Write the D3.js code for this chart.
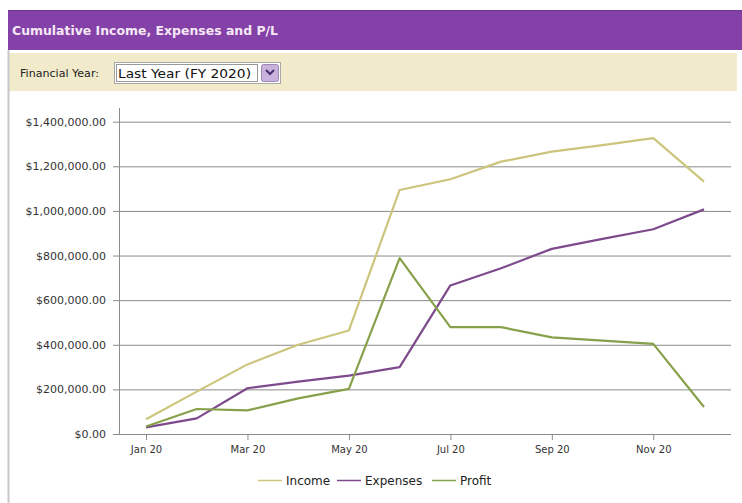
<!DOCTYPE html>
<html><head><meta charset="utf-8">
<script src="https://cdn.jsdelivr.net/npm/d3@7"></script>
<style>
html,body{margin:0;padding:0;background:#fff;}
svg{display:block;}
</style></head>
<body><svg id="c" width="742" height="503"></svg>
<script>
const months = ["Jan 20","Feb 20","Mar 20","Apr 20","May 20","Jun 20","Jul 20","Aug 20","Sep 20","Oct 20","Nov 20","Dec 20"];
const income   = [66000,190000,312000,400000,464000,1094000,1142000,1221000,1266000,1295000,1326000,1131000];
const expenses = [30000,70000,205000,235000,262000,300000,666000,743000,830000,875000,918000,1007000];
const profit   = [34000,112000,106000,160000,202000,788000,479000,479000,433000,419000,404000,121000];
const yTicks = [0,200000,400000,600000,800000,1000000,1200000,1400000];
const xTickLabels = ["Jan 20","Mar 20","May 20","Jul 20","Sep 20","Nov 20"];
const seriesNames = ["Income","Expenses","Profit"];
const colors = ["#ccc57c","#7d4a8c","#87a04a"];

const svg = d3.select("#c");
// header
svg.append("rect").attr("x",8).attr("y",10).attr("width",734).attr("height",40).attr("fill","#8441a8");
svg.append("line").attr("x1",8).attr("x2",742).attr("y1",10.5).attr("y2",10.5).attr("stroke","#6d3590");
svg.append("text").attr("x",12).attr("y",35).attr("fill","#f6e8f6")
  .attr("font-family","DejaVu Sans, sans-serif").attr("font-weight","bold").attr("font-size",12)
  .attr("textLength",266).attr("lengthAdjust","spacingAndGlyphs")
  .text("Cumulative Income, Expenses and P/L");
// filter bar
svg.append("rect").attr("x",9).attr("y",53).attr("width",728).attr("height",38).attr("fill","#f1ebcb");
svg.append("text").attr("x",20).attr("y",77).attr("fill","#222")
  .attr("font-family","DejaVu Sans, sans-serif").attr("font-size",10.5)
  .attr("textLength",79).attr("lengthAdjust","spacingAndGlyphs").text("Financial Year:");
svg.append("rect").attr("x",114.5).attr("y",62.5).attr("width",166).attr("height",21).attr("fill","#fff").attr("stroke","#a8a8a8");
svg.append("rect").attr("x",116.5).attr("y",64.5).attr("width",141).attr("height",17).attr("fill","none").attr("stroke","#333").attr("stroke-dasharray","1,1");
svg.append("text").attr("x",118).attr("y",78).attr("fill","#111")
  .attr("font-family","DejaVu Sans, sans-serif").attr("font-size",12)
  .attr("textLength",133).attr("lengthAdjust","spacingAndGlyphs").text("Last Year (FY 2020)");
svg.append("rect").attr("x",261.5).attr("y",64.5).attr("width",17).attr("height",17).attr("rx",2).attr("fill","#c9b2dc").attr("stroke","#9b86b5");
svg.append("path").attr("d","M266,70 L270,74 L274,70").attr("fill","none").attr("stroke","#4a3070").attr("stroke-width",2);
// panel border
svg.append("line").attr("x1",8.5).attr("x2",8.5).attr("y1",50).attr("y2",503).attr("stroke","#c8c8c8").attr("stroke-width",2);

// scales
const x = d3.scalePoint().domain(months).range([146,704]);
const y = d3.scaleLinear().domain([0,1400000]).range([434,121.7]);

// y axis with gridlines
const fmt = d3.format("$,.2f");
const gy = svg.append("g").attr("transform","translate(119,0)")
  .call(d3.axisLeft(y).tickValues(yTicks).tickFormat(fmt).tickSize(6).tickPadding(7));
gy.select(".domain").remove();
gy.selectAll(".tick line").attr("x1",-6).attr("x2",612).attr("stroke","#8a8a8a");
gy.selectAll(".tick text").attr("font-family","DejaVu Sans, sans-serif").attr("font-size",11).attr("fill","#333");
svg.append("line").attr("x1",119.5).attr("x2",119.5).attr("y1",108).attr("y2",434).attr("stroke","#8a8a8a");

// x axis
const gx = svg.append("g").attr("transform","translate(0,434)")
  .call(d3.axisBottom(x).tickValues(xTickLabels).tickSize(6).tickPadding(6));
gx.select(".domain").attr("d","M119,0.5H731").attr("stroke","#8a8a8a");
gx.selectAll(".tick line").attr("stroke","#8a8a8a");
gx.selectAll(".tick text").attr("font-family","DejaVu Sans, sans-serif").attr("font-size",10).attr("fill","#333");

// lines
const data = [income, expenses, profit];
const line = d3.line().x((d,i)=>x(months[i])).y(d=>y(d));
data.forEach((s,k)=>{
  svg.append("path").datum(s).attr("d",line).attr("fill","none")
    .attr("stroke",colors[k]).attr("stroke-width",2.2).attr("stroke-linejoin","round");
});

// legend
const legX = [258,337,432];
const lg = svg.append("g");
seriesNames.forEach((n,k)=>{
  lg.append("line").attr("x1",legX[k]).attr("x2",legX[k]+24).attr("y1",480.5).attr("y2",480.5).attr("stroke",colors[k]).attr("stroke-width",1.5);
  lg.append("text").attr("x",legX[k]+28).attr("y",485).attr("font-family","DejaVu Sans, sans-serif").attr("font-size",12).attr("fill","#222").text(n);
});
</script></body></html>
